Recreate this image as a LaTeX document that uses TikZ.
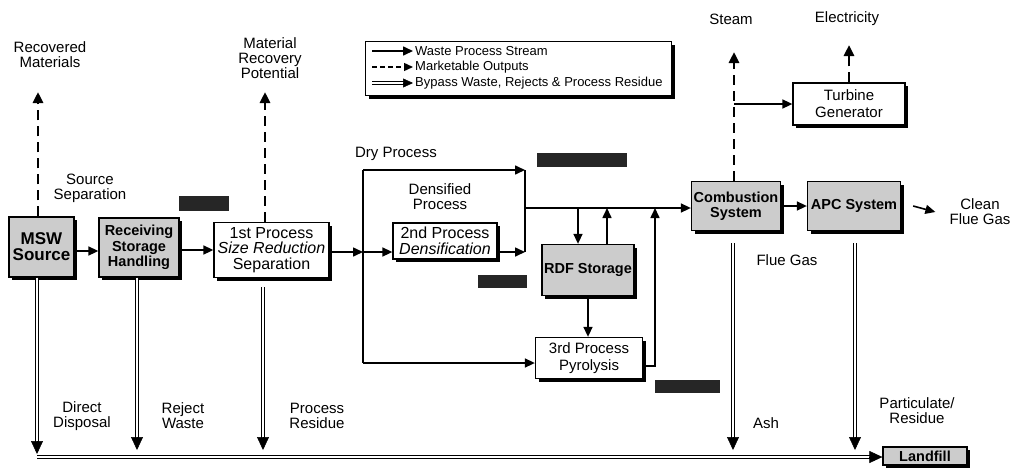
\documentclass[tikz,border=0pt]{standalone}
\usepackage{fontspec}
\setmainfont{Liberation Sans}
\usetikzlibrary{arrows.meta,shadows,calc}
\begin{document}
\begin{tikzpicture}[x=1pt,y=-1pt,
  font=\fontsize{15}{15}\selectfont,
  box/.style={draw, line width=1.3pt, fill=white, align=center, inner sep=0pt,
     drop shadow={shadow xshift=3pt, shadow yshift=-3pt, fill=black, opacity=1}},
  gbox/.style={box, fill=black!20, font=\fontsize{14.5}{15.5}\selectfont\bfseries},
  wbox/.style={box, font=\fontsize{16}{15.5}\selectfont},
  lbl/.style={align=center, inner sep=0pt},
  arr/.style={line width=1.6pt, -{Triangle[length=10pt,width=9pt]}},
  ln/.style={line width=1.6pt},
  dsh/.style={line width=2.8pt, dash pattern=on 10pt off 6pt, -{Triangle[length=11pt,width=10pt]}},
  ldsh/.style={line width=1.4pt, dash pattern=on 5pt off 3pt, -{Triangle[length=9pt,width=8pt]}},
  byp/.style={line width=1.2pt, double=white, double distance=1.6pt},
  bt/.style={-{Triangle[length=13pt,width=12pt]}, line width=0.5pt},
  lbt/.style={-{Triangle[length=10pt,width=9pt]}, line width=0.5pt},
  redact/.style={fill=black!85},
  legtxt/.style={anchor=west, inner sep=0pt, font=\fontsize{13}{13}\selectfont}
]
\useasboundingbox (0,0) rectangle (1011,469);

% ---------- legend ----------
\node[box, minimum width=306pt, minimum height=54pt, anchor=north west] (LEG) at (365,41) {};
\coordinate (la) at (372,51);
\coordinate (lb) at (372,67);
\coordinate (lc) at (372,83);
\coordinate (la2) at (413,51);
\coordinate (lb2) at (413,67);
\coordinate (lc2) at (413,83);
\draw[arr] (la) -- (la2);
\draw[ldsh] (lb) -- (lb2);
\draw[byp] (lc) -- ($(lc2)+(-9,0)$);
\draw[lbt] ($(lc2)+(-10,0)$) -- (lc2);
\node[legtxt] (lt1) at (415,51) {Waste Process Stream};
\node[legtxt] (lt2) at (415,67) {Marketable Outputs};
\node[legtxt] (lt3) at (415,83) {Bypass Waste, Rejects \& Process Residue};

% ---------- redaction blocks ----------
\fill[redact] (179,196) rectangle (229,211);
\fill[redact] (537,153) rectangle (627,167);
\fill[redact] (478,275) rectangle (527,288);
\fill[redact] (655,380) rectangle (720,393);

% ---------- boxes ----------
\node[gbox, font=\fontsize{17}{16}\selectfont\bfseries, minimum width=65pt, minimum height=60pt] (MSW) at (41.5,247) {MSW\\Source};
\node[gbox, minimum width=80pt, minimum height=59pt] (REC) at (139,247.5) {Receiving\\Storage\\Handling};
\node[wbox, minimum width=115pt, minimum height=55pt] (P1) at (271.5,250) {1st Process\\\textit{Size Reduction}\\Separation};
\node[wbox, minimum width=104pt, minimum height=36pt] (P2) at (445,241) {2nd Process\\\textit{Densification}};
\node[gbox, minimum width=92pt, minimum height=51pt] (RDF) at (588,270) {RDF Storage};
\node[wbox, font=\fontsize{15}{17}\selectfont, minimum width=107pt, minimum height=41pt] (P3) at (589,358) {3rd Process\\Pyrolysis};
\node[gbox, minimum width=89pt, minimum height=49pt] (COMB) at (736,206) {Combustion\\System};
\node[gbox, minimum width=93pt, minimum height=49pt] (APC) at (854,206) {APC System};
\node[wbox, font=\fontsize{15}{17}\selectfont, minimum width=112pt, minimum height=42pt] (TG) at (849,104) {Turbine\\Generator};
\node[gbox, minimum width=84pt, minimum height=18pt] (LF) at (925,456) {Landfill};

% ---------- labels ----------
\node[lbl] (recm) at (50,55) {Recovered\\Materials};
\node[lbl] (srcsep) at (90,188) {Source\\Separation};
\node[lbl] (mrp) at (270,58) {Material\\Recovery\\Potential};
\node[lbl] (dry) at (396,154) {Dry Process};
\node[lbl] (dens) at (440,197) {Densified\\Process};
\node[lbl] (steam) at (731,19) {Steam};
\node[lbl] (elec) at (847,19) {Electricity};
\node[lbl] (clean) at (980,212) {Clean\\Flue Gas};
\node[lbl] (flue) at (787,260) {Flue Gas};
\node[lbl] (dd) at (82,416) {Direct\\Disposal};
\node[lbl] (rw) at (183,416) {Reject\\Waste};
\node[lbl] (pr) at (317,416) {Process\\Residue};
\node[lbl] (ash) at (766,423) {Ash};
\node[lbl] (pres) at (917,411) {Particulate/\\Residue};

% ---------- waste process stream ----------
\draw[arr] ([yshift=-4pt]MSW.east) -- ([yshift=-4pt]MSW.east -| REC.west);
\draw[arr] (REC.east |- P1) -- (P1);

\coordinate (J1) at (363,252);
\coordinate (DT) at (363,170);
\coordinate (DB) at (363,363);
\coordinate (JR) at (525,170);
\coordinate (JRb) at (525,252);
\coordinate (JM) at (525,208);
\draw[arr] (P1.east |- J1) -- (J1);
\draw[ln] (DT) -- (DB);
\draw[arr] (DT) -- (JR);
\draw[ln] (JR) -- (JRb);
\draw[arr] (J1) -- (J1 -| P2.west);
\draw[arr] (P2.east |- JRb) -- (JRb);
\draw[arr] (DB) -- (DB -| P3.west);
\draw[arr] (JM) -- (JM -| COMB.west);

\coordinate (b1) at (578,208);
\coordinate (b2) at (607,208);
\coordinate (b3) at (655,208);
\draw[arr] (b1) -- (b1 |- RDF.north);
\draw[arr] (b2 |- RDF.north) -- (b2);
\draw[arr] (RDF.south) -- (RDF.south |- P3.north);
\draw[arr] ([yshift=-8pt]P3.east) -| (b3);

\draw[arr] (COMB) -- (APC);
\draw[arr] ([xshift=12pt]APC.east) -- ([xshift=-14pt]clean.west);

\coordinate (st) at (734,52);
\draw[arr] (st |- TG) -- (TG);

% ---------- marketable outputs ----------
\draw[dsh] (COMB.north -| st) -- (st);
\coordinate (el) at (849,45);
\draw[dsh] (TG.north) -- (TG.north |- el);
\coordinate (rm) at (38,92);
\draw[dsh] (MSW.north -| rm) -- (rm);
\coordinate (mr) at (265,92);
\draw[dsh] (P1.north -| mr) -- (mr);

% ---------- bypass / rejects / residue ----------
\coordinate (e1) at (37,454);
\coordinate (e2) at (137,450);
\coordinate (e3) at (263,450);
\coordinate (e4) at (733,450);
\coordinate (e5) at (855,450);
\coordinate (s3) at ($(P1.south -| e3)+(0,9)$);
\coordinate (s4) at ($(COMB.south -| e4)+(0,12)$);
\coordinate (s5) at ($(APC.south -| e5)+(0,12)$);

\draw[byp] (MSW.south -| e1) -- ($(e1)+(0,-11)$);
\draw[bt] ($(e1)+(0,-13)$) -- (e1);
\draw[byp] (REC.south -| e2) -- ($(e2)+(0,-11)$);
\draw[bt] ($(e2)+(0,-13)$) -- (e2);
\draw[byp] (s3) -- ($(e3)+(0,-11)$);
\draw[bt] ($(e3)+(0,-13)$) -- (e3);
\draw[byp] (s4) -- ($(e4)+(0,-11)$);
\draw[bt] ($(e4)+(0,-13)$) -- (e4);
\draw[byp] (s5) -- ($(e5)+(0,-11)$);
\draw[bt] ($(e5)+(0,-13)$) -- (e5);

\coordinate (bl) at (37,457);
\coordinate (lfw) at (LF.west |- bl);
\draw[byp] (bl) -- ($(lfw)+(-11,0)$);
\draw[bt] ($(lfw)+(-13,0)$) -- (lfw);
\end{tikzpicture}
\end{document}
